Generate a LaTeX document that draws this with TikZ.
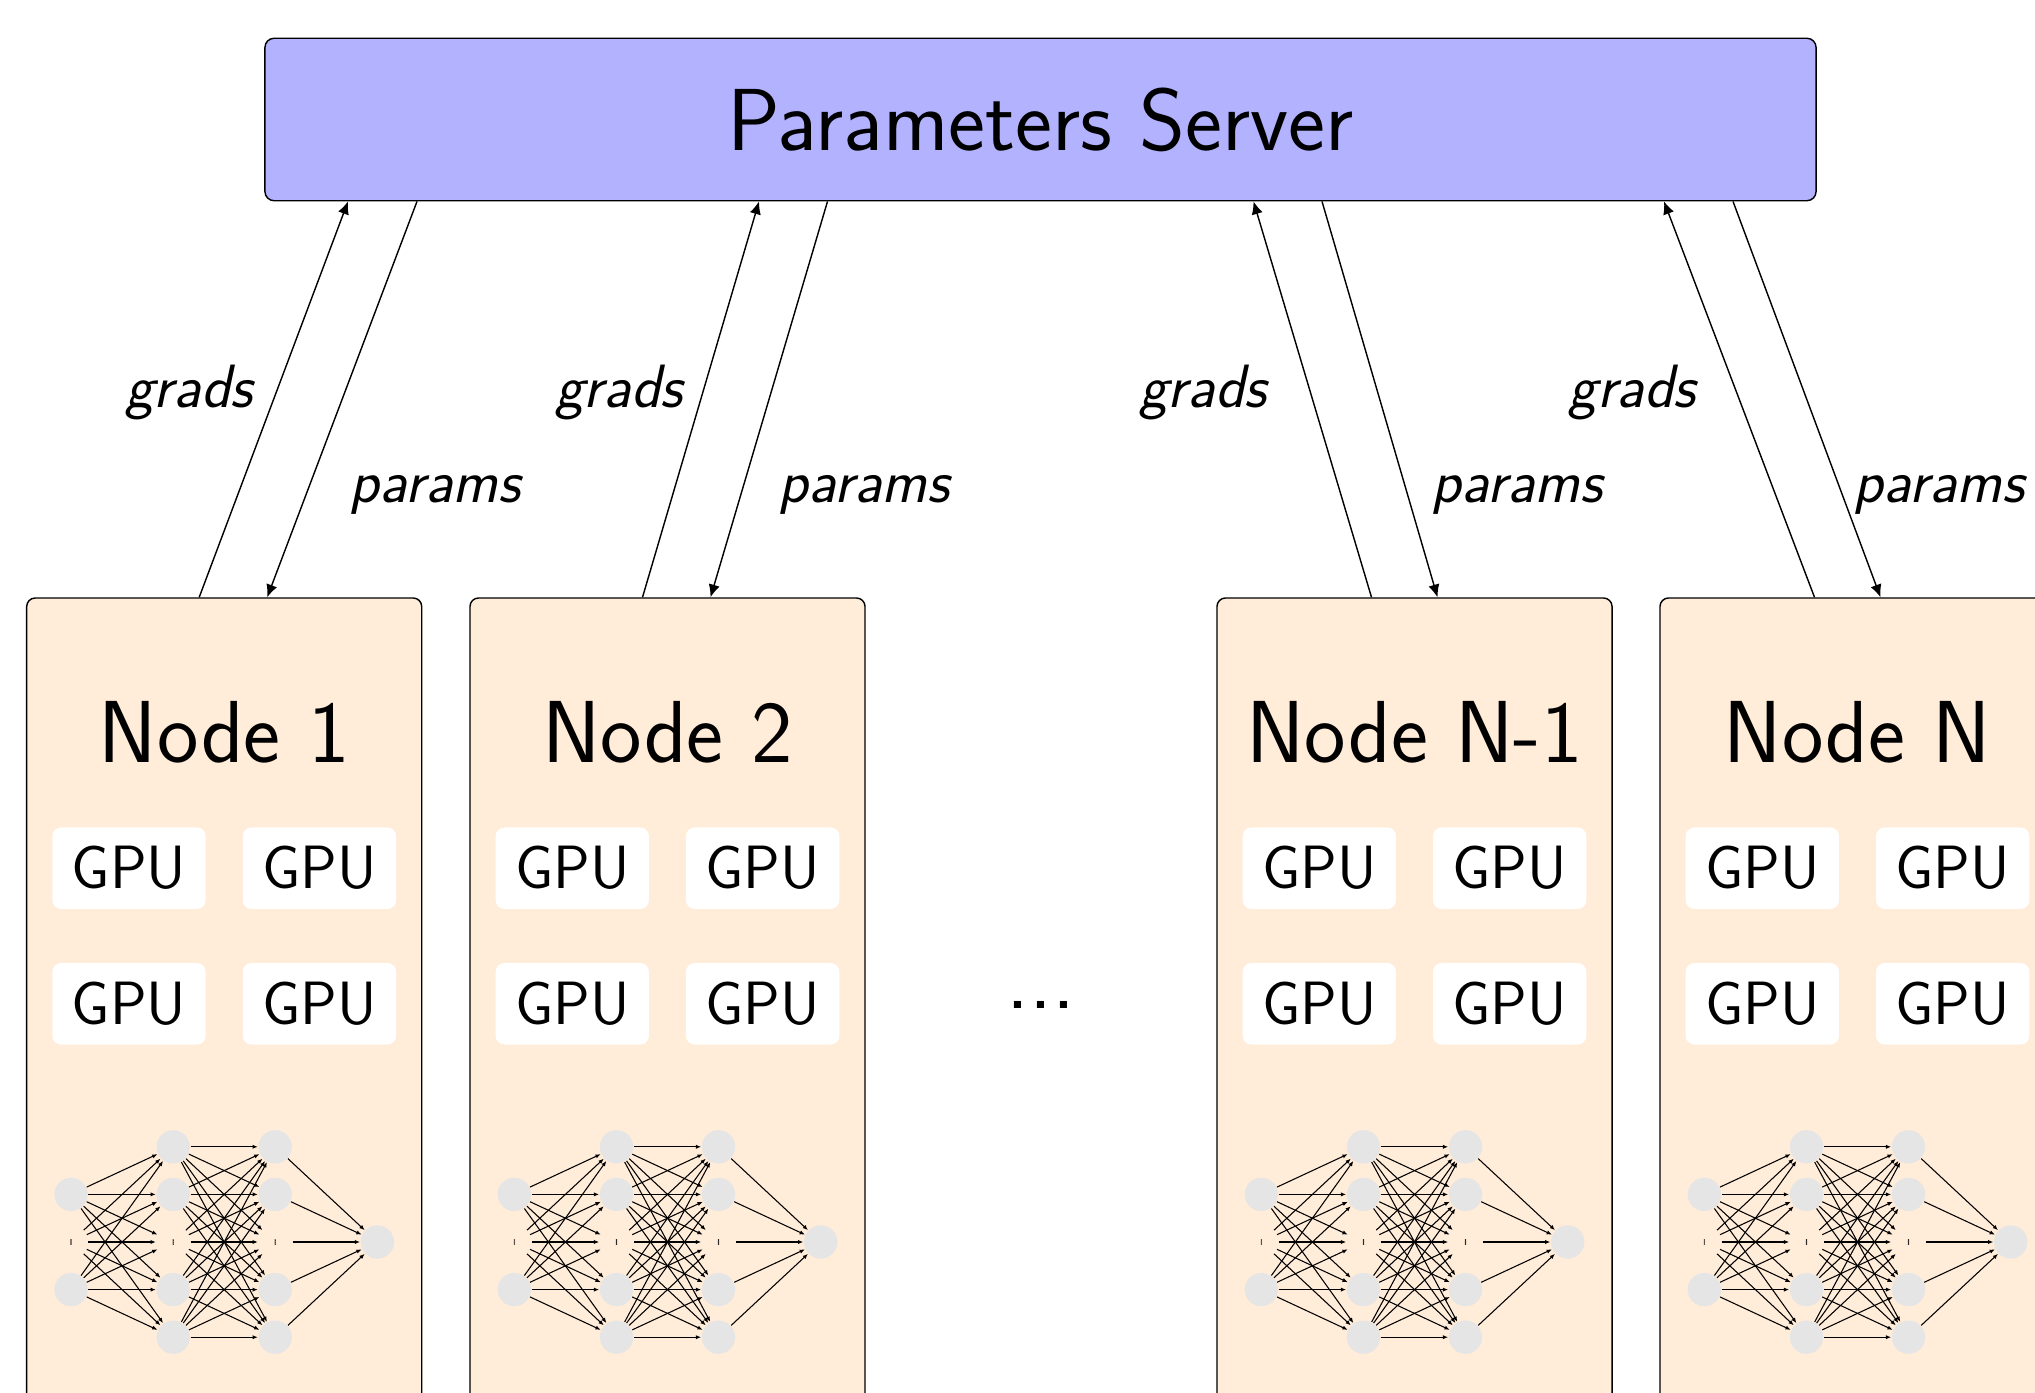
\documentclass[tikz,border=0pt]{standalone}
\usetikzlibrary{arrows.meta,calc}
\renewcommand{\familydefault}{\sfdefault}
\begin{document}
\begin{tikzpicture}[x=0.2825pt, y=-0.2825pt,
  server/.style={draw=black, fill=blue!30, rounded corners=2.6pt, line width=0.4pt,
    minimum width=438.2pt, minimum height=45.9pt, inner sep=0pt, font=\Huge},
  machine/.style={draw=black, fill=orange!15, rounded corners=2.4pt, line width=0.4pt,
    minimum width=111.6pt, minimum height=283pt, inner sep=0pt},
  gpu/.style={fill=white, rounded corners=2.4pt, minimum width=43.3pt,
    minimum height=23pt, inner sep=0pt, font=\LARGE},
  title/.style={font=\Huge, anchor=base, inner sep=0pt},
  flow/.style={font=\LARGE\slshape, anchor=base, inner sep=0pt},
  neuron/.style={circle, fill=black!10, minimum size=9.4pt, inner sep=0pt},
  gap/.style={circle, minimum size=9.4pt, inner sep=0pt},
  link/.style={-{Latex[length=3.6pt,width=3.2pt]}, line width=0.4pt},
  synapse/.style={-{Latex[length=1.5pt,width=1.2pt]}, line width=0.3pt},
]
\useasboundingbox (0,0) rectangle (2035,1393);
\clip (0,0) rectangle (2035,1393);

% central server
\node[server] (ps) at (1040.5,119.5) {Parameters Server};

% ellipsis between the worker nodes
\node[font=\Huge, anchor=base, inner sep=0pt] (more) at (1040.5,1008) {...};

% worker nodes: index / centre x / title / grads and params offsets on the box /
% offsets on the server / label positions
\foreach \i/\cx/\ttl/\gs/\pend/\gx/\px/\glx/\plx in {
  1/224.2/Node 1/-25/43/-692.5/-623.5/189/435,
  2/667.5/Node 2/-25/43/-281.5/-213/619/864,
  3/1414.5/Node N-1/-43/23/213/281.5/1203/1517,
  4/1857.5/Node N/-43/23/623.5/692.5/1632/1939}{
  \node[machine] (n\i) at (\cx,1098.9) {};
  \node[title] (t\i) at (\cx,763) {\ttl};
  % GPUs
  \foreach \r/\ry in {1/868.2,2/1003.8}
    \foreach \c/\dx in {1/-95.2,2/95.2}
      \node[gpu] (g\i-\r\c) at ({\cx+\dx},\ry) {GPU};
  % small network: layers a (input), b, c (hidden), d (output)
  \foreach \r in {2,4}
    \node[neuron] (n\i-a\r) at ({\cx-153.2},{1242+(\r-3)*47.6}) {};
  \node[gap] (n\i-a3) at ({\cx-153.2},1242) {};
  \foreach \L/\lx in {b/-51,c/51}{
    \foreach \r in {1,2,4,5}
      \node[neuron] (n\i-\L\r) at ({\cx+\lx},{1242+(\r-3)*47.6}) {};
    \node[gap] (n\i-\L3) at ({\cx+\lx},1242) {};
  }
  \node[neuron] (n\i-d3) at ({\cx+153.2},1242) {};
  \foreach \L in {a,b,c}
    \foreach \dy in {-2,0,2}
      \fill ($(n\i-\L3)+(0,\dy)$) circle (0.8);
  \foreach \s in {2,3,4}
    \foreach \t in {1,...,5}
      \draw[synapse] (n\i-a\s) -- (n\i-b\t);
  \foreach \s in {1,...,5}{
    \foreach \t in {1,...,5}
      \draw[synapse] (n\i-b\s) -- (n\i-c\t);
    \draw[synapse] (n\i-c\s) -- (n\i-d3);
  }
  % traffic with the server
  \draw[link] ($(n\i.north)+(\gs,0)$) -- ($(ps.south)+(\gx,0)$);
  \draw[link] ($(ps.south)+(\px,0)$) -- ($(n\i.north)+(\pend,0)$);
  \node[flow] (gl\i) at (\glx,408) {grads};
  \node[flow] (pl\i) at (\plx,503) {params};
}
\end{tikzpicture}
\end{document}
